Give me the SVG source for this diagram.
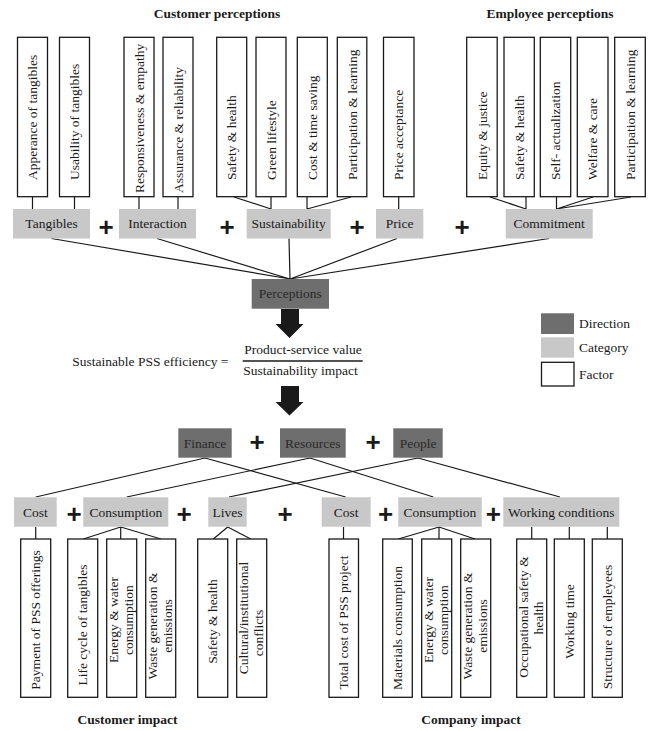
<svg xmlns="http://www.w3.org/2000/svg" width="648" height="731" viewBox="0 0 648 731">
<style>
.f{fill:#fff;stroke:#1a1a1a;stroke-width:1.3}
.c{fill:#c8c8c8}
.d{fill:#6e6e6e}
.t{font-family:"Liberation Serif","Times New Roman",serif;font-size:13.5px;fill:#1a1a1a}
.m{text-anchor:middle}
.e{text-anchor:end}
.b{font-weight:bold}
.ln{stroke:#1a1a1a;stroke-width:1.2;fill:none}
.p{font-family:"Liberation Sans",Arial,sans-serif;font-weight:bold;font-size:26px;text-anchor:middle;fill:#1a1a1a}
.ar{fill:#1a1a1a}
</style>
<rect width="648" height="731" fill="#fff"/>

<text class="t b m" x="217" y="17.5">Customer perceptions</text>
<text class="t b m" x="550" y="17.5">Employee perceptions</text>

<g id="connectors">
  <!-- factor to category top -->
  <path class="ln" d="M32.5 197V209 M74.5 197V209 M139 197V209 M178 197V209"/>
  <path class="ln" d="M234 197L271 209 M271 197V209 M307 197V209 M351 197L307 209"/>
  <path class="ln" d="M398.7 197V209"/>
  <path class="ln" d="M490 197L526 209 M526 197V209 M556.5 197V209 M593 197L556.5 209 M631 197L556.5 209"/>
  <!-- category to perceptions -->
  <path class="ln" d="M51.5 238.5L290 279 M157 238.5L290 279 M289 238.5L290 279 M397 238.5L290 279 M549 238.5L290 279"/>
  <!-- fraction line -->
  <path class="ln" d="M242.7 361H362.7" style="stroke-width:1.3"/>
  <!-- direction to bottom categories -->
  <path class="ln" d="M205 458L35.7 497 M205 458L345.7 497"/>
  <path class="ln" d="M310 458L126.7 497 M310 458L433.3 497"/>
  <path class="ln" d="M418 458L229 497 M418 458L560 497"/>
  <!-- bottom categories to factors -->
  <path class="ln" d="M35.7 527V539 M120.7 527L83.3 539 M120.7 527V539 M120.7 527L161 539"/>
  <path class="ln" d="M227.7 527L213.3 539 M227.7 527L250.7 539"/>
  <path class="ln" d="M343.5 527V539 M439 527L398.3 539 M439 527V539 M439 527L475 539"/>
  <path class="ln" d="M531.7 527V539 M569.3 527V539 M607.3 527V539"/>
  <!-- block arrows -->
  <polygon class="ar" points="281,309 299,309 299,324 303.5,324 289.5,338 275.5,324 281,324"/>
  <polygon class="ar" points="281,386 299,386 299,402 303.5,402 289.5,415.5 275.5,402 281,402"/>
</g>

<!-- top factors -->
<g id="f-appearance"><rect class="f" x="17.5" y="37.3" width="30" height="159.4"/><text class="t" transform="translate(37 180) rotate(-90)">Apperance of tangibles</text></g>
<g id="f-usability"><rect class="f" x="59.5" y="37.3" width="30" height="159.4"/><text class="t" transform="translate(79 180) rotate(-90)">Usability of tangibles</text></g>
<g id="f-responsiveness"><rect class="f" x="124" y="37.3" width="30" height="159.4"/><text class="t" transform="translate(143.5 193) rotate(-90)">Responsiveness &amp; empathy</text></g>
<g id="f-assurance"><rect class="f" x="163" y="37.3" width="30" height="159.4"/><text class="t" transform="translate(182.5 193) rotate(-90)">Assurance &amp; reliability</text></g>
<g id="f-safety1"><rect class="f" x="216.7" y="37.3" width="30" height="159.4"/><text class="t" transform="translate(236.2 180) rotate(-90)">Safety &amp; health</text></g>
<g id="f-green"><rect class="f" x="256" y="37.3" width="30" height="159.4"/><text class="t" transform="translate(275.5 180) rotate(-90)">Green lifestyle</text></g>
<g id="f-costtime"><rect class="f" x="297.3" y="37.3" width="30" height="159.4"/><text class="t" transform="translate(316.8 180) rotate(-90)">Cost &amp; time saving</text></g>
<g id="f-particip1"><rect class="f" x="337.3" y="37.3" width="29.5" height="159.4"/><text class="t" transform="translate(356.5 180) rotate(-90)">Participation &amp; learning</text></g>
<g id="f-price"><rect class="f" x="383.5" y="37.3" width="30.5" height="159.4"/><text class="t" transform="translate(403.2 180) rotate(-90)">Price acceptance</text></g>
<g id="f-equity"><rect class="f" x="466.7" y="37.3" width="30.5" height="159.4"/><text class="t" transform="translate(486.5 180) rotate(-90)">Equity &amp; justice</text></g>
<g id="f-safety2"><rect class="f" x="504" y="37.3" width="30.3" height="159.4"/><text class="t" transform="translate(523.6 180) rotate(-90)">Safety &amp; health</text></g>
<g id="f-selfact"><rect class="f" x="540.3" y="37.3" width="30.4" height="159.4"/><text class="t" transform="translate(560 180) rotate(-90)">Self- actualization</text></g>
<g id="f-welfare"><rect class="f" x="577.3" y="37.3" width="30.7" height="159.4"/><text class="t" transform="translate(597.1 180) rotate(-90)">Welfare &amp; care</text></g>
<g id="f-particip2"><rect class="f" x="614.7" y="37.3" width="30.6" height="159.4"/><text class="t" transform="translate(634.5 180) rotate(-90)">Participation &amp; learning</text></g>

<!-- top categories -->
<g id="c-tangibles"><rect class="c" x="13" y="209" width="77" height="29.5"/><text class="t m" x="51.5" y="228.3">Tangibles</text></g>
<g id="c-interaction"><rect class="c" x="119" y="209" width="77" height="29.5"/><text class="t m" x="157.5" y="228.3">Interaction</text></g>
<g id="c-sustainability"><rect class="c" x="246.7" y="209" width="84" height="29.5"/><text class="t m" x="288.7" y="228.3">Sustainability</text></g>
<g id="c-price"><rect class="c" x="376" y="209" width="47.3" height="29.5"/><text class="t m" x="399.7" y="228.3">Price</text></g>
<g id="c-commitment"><rect class="c" x="505.7" y="209" width="87" height="29.5"/><text class="t m" x="549.2" y="228.3">Commitment</text></g>
<text class="p" x="106" y="236.3">+</text>
<text class="p" x="227" y="236.3">+</text>
<text class="p" x="357" y="236.3">+</text>
<text class="p" x="462" y="236.3">+</text>

<g id="d-perceptions"><rect class="d" x="251.7" y="279" width="77.3" height="29.7"/><text class="t m" x="290.3" y="298.3" style="fill:#2a2a2a">Perceptions</text></g>

<g id="equation">
<text class="t e" x="228.5" y="365.5">Sustainable PSS efficiency =</text>
<text class="t m" x="303" y="353.5">Product-service value</text>
<text class="t m" x="300.5" y="374.5">Sustainability impact</text>
</g>

<g id="legend">
<rect class="d" x="541" y="313.3" width="33" height="20.7"/><text class="t" x="579" y="328.2">Direction</text>
<rect class="c" x="541" y="337.3" width="33" height="20.4"/><text class="t" x="579" y="352">Category</text>
<rect class="f" x="541.5" y="362.3" width="32.5" height="23.7"/><text class="t" x="579" y="378.6">Factor</text>
</g>

<!-- direction row -->
<g id="d-finance"><rect class="d" x="178.3" y="428.3" width="53.4" height="29.4"/><text class="t m" x="205" y="447.6" style="fill:#2a2a2a">Finance</text></g>
<g id="d-resources"><rect class="d" x="280" y="428.3" width="65.7" height="29.4"/><text class="t m" x="312.8" y="447.6" style="fill:#2a2a2a">Resources</text></g>
<g id="d-people"><rect class="d" x="393.3" y="428.3" width="49.4" height="29.4"/><text class="t m" x="418" y="447.6" style="fill:#2a2a2a">People</text></g>
<text class="p" x="257" y="451.3">+</text>
<text class="p" x="373" y="451.3">+</text>

<!-- bottom categories -->
<g id="c-cost1"><rect class="c" x="14" y="497.3" width="42.7" height="29.4"/><text class="t m" x="35.4" y="516.6">Cost</text></g>
<g id="c-consumption1"><rect class="c" x="83.3" y="497.3" width="85" height="29.4"/><text class="t m" x="125.8" y="516.6">Consumption</text></g>
<g id="c-lives"><rect class="c" x="208.3" y="497.3" width="38.4" height="29.4"/><text class="t m" x="227.5" y="516.6">Lives</text></g>
<g id="c-cost2"><rect class="c" x="321.7" y="497.3" width="49" height="29.4"/><text class="t m" x="346.2" y="516.6">Cost</text></g>
<g id="c-consumption2"><rect class="c" x="398.3" y="497.3" width="83.4" height="29.4"/><text class="t m" x="440" y="516.6">Consumption</text></g>
<g id="c-working"><rect class="c" x="503.3" y="497.3" width="116" height="29.4"/><text class="t m" x="561.3" y="516.6">Working conditions</text></g>
<text class="p" x="74" y="522.8">+</text>
<text class="p" x="184" y="522.8">+</text>
<text class="p" x="285" y="522.8">+</text>
<text class="p" x="385.5" y="522.8">+</text>
<text class="p" x="493.3" y="522.8">+</text>

<!-- bottom factors -->
<g id="f-payment"><rect class="f" x="20.7" y="539" width="30" height="158.3"/><text class="t m" transform="translate(40.2 620) rotate(-90)">Payment of PSS offerings</text></g>
<g id="f-lifecycle"><rect class="f" x="67.7" y="539" width="30" height="158.3"/><text class="t m" transform="translate(87.2 625) rotate(-90)">Life cycle of tangibles</text></g>
<g id="f-energy1"><rect class="f" x="106.7" y="539" width="30" height="158.3"/><text class="t m" transform="translate(117.5 620) rotate(-90)">Energy &amp; water</text><text class="t m" transform="translate(132.5 620) rotate(-90)">consumption</text></g>
<g id="f-waste1"><rect class="f" x="145.7" y="539" width="30" height="158.3"/><text class="t m" transform="translate(156.5 626) rotate(-90)">Waste generation &amp;</text><text class="t m" transform="translate(171.5 626) rotate(-90)">emissions</text></g>
<g id="f-safety3"><rect class="f" x="197.7" y="539" width="30" height="158.3"/><text class="t m" transform="translate(217.2 621.5) rotate(-90)">Safety &amp; health</text></g>
<g id="f-cultural"><rect class="f" x="236.7" y="539" width="30" height="158.3"/><text class="t m" transform="translate(247.5 618) rotate(-90)">Cultural/institutional</text><text class="t m" transform="translate(262.5 633) rotate(-90)">conflicts</text></g>
<g id="f-totalcost"><rect class="f" x="329" y="539" width="29.5" height="158.3"/><text class="t m" transform="translate(348.3 622.5) rotate(-90)">Total cost of PSS project</text></g>
<g id="f-materials"><rect class="f" x="382.7" y="539" width="29.6" height="158.3"/><text class="t m" transform="translate(402 628) rotate(-90)">Materials consumption</text></g>
<g id="f-energy2"><rect class="f" x="421.7" y="539" width="30" height="158.3"/><text class="t m" transform="translate(432.5 620) rotate(-90)">Energy &amp; water</text><text class="t m" transform="translate(447.5 620) rotate(-90)">consumption</text></g>
<g id="f-waste2"><rect class="f" x="460.7" y="539" width="30" height="158.3"/><text class="t m" transform="translate(471.5 626) rotate(-90)">Waste generation &amp;</text><text class="t m" transform="translate(486.5 626) rotate(-90)">emissions</text></g>
<g id="f-occupational"><rect class="f" x="516.7" y="539" width="30" height="158.3"/><text class="t m" transform="translate(527.5 617) rotate(-90)">Occupational safety &amp;</text><text class="t m" transform="translate(542.5 618) rotate(-90)">health</text></g>
<g id="f-workingtime"><rect class="f" x="554.3" y="539" width="30" height="158.3"/><text class="t m" transform="translate(573.8 621.5) rotate(-90)">Working time</text></g>
<g id="f-structure"><rect class="f" x="592.3" y="539" width="30" height="158.3"/><text class="t m" transform="translate(611.8 627) rotate(-90)">Structure of empleyees</text></g>

<text class="t b m" x="127.5" y="724">Customer impact</text>
<text class="t b m" x="471" y="724">Company impact</text>
</svg>
